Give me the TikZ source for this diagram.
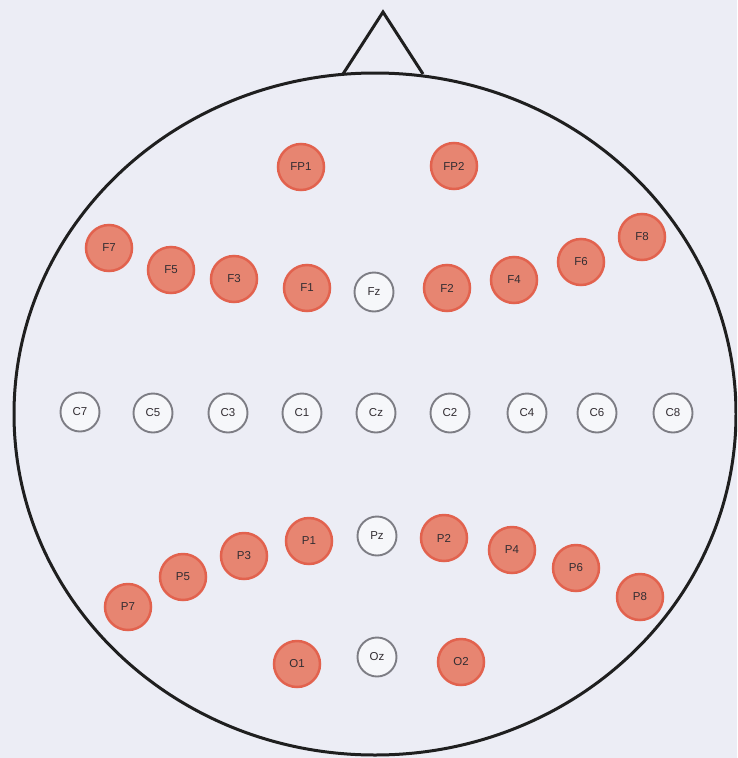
\documentclass[tikz,border=0pt]{standalone}
\usepackage{fontspec}
\setmainfont{Liberation Sans}
\definecolor{bgc}{RGB}{236,237,245}
\definecolor{redfill}{RGB}{231,133,113}
\definecolor{redring}{RGB}{226,98,78}
\definecolor{greyring}{RGB}{125,125,132}
\definecolor{txt}{RGB}{50,45,50}
\tikzset{
  elec/.style={circle, minimum size=46pt, inner sep=0pt, fill=redfill, draw=redring, line width=2.5pt,
    font=\fontsize{11.5}{13}\selectfont, text=txt},
  idle/.style={circle, minimum size=39pt, inner sep=0pt, fill=white!55!bgc, draw=greyring, line width=1.9pt,
    font=\fontsize{11.5}{13}\selectfont, text=txt},
  headline/.style={line width=3pt, draw=black!88}
}
\begin{document}
\begin{tikzpicture}[x=1pt,y=-1pt]
\fill[bgc] (0,0) rectangle (737,758);
\useasboundingbox (0,0) rectangle (737,758);
\clip (0,0) rectangle (737,758);
% head
\draw[headline] (375,414) ellipse [x radius=361, y radius=341];
\coordinate (nl) at (343,74);
\coordinate (nt) at (383,12);
\coordinate (nr) at (423,74);
\draw[headline, line join=miter] (nl) -- (nt) -- (nr);
% frontal pole
\node[elec] (FP1) at (301,167) {FP1};
\node[elec] (FP2) at (454,166) {FP2};
% frontal
\node[elec] (F7) at (109,248) {F7};
\node[elec] (F5) at (171,270) {F5};
\node[elec] (F3) at (234,279) {F3};
\node[elec] (F1) at (307,288) {F1};
\node[idle] (Fz) at (374,292) {Fz};
\node[elec] (F2) at (447,288) {F2};
\node[elec] (F4) at (514,280) {F4};
\node[elec] (F6) at (581,262) {F6};
\node[elec] (F8) at (642,237) {F8};
% central
\node[idle] (C7) at (80,412) {C7};
\node[idle] (C5) at (153,413) {C5};
\node[idle] (C3) at (228,413) {C3};
\node[idle] (C1) at (302,413) {C1};
\node[idle] (Cz) at (376,413) {Cz};
\node[idle] (C2) at (450,413) {C2};
\node[idle] (C4) at (527,413) {C4};
\node[idle] (C6) at (597,413) {C6};
\node[idle] (C8) at (673,413) {C8};
% parietal
\node[elec] (P7) at (128,607) {P7};
\node[elec] (P5) at (183,577) {P5};
\node[elec] (P3) at (244,556) {P3};
\node[elec] (P1) at (309,541) {P1};
\node[idle] (Pz) at (377,536) {Pz};
\node[elec] (P2) at (444,538) {P2};
\node[elec] (P4) at (512,550) {P4};
\node[elec] (P6) at (576,568) {P6};
\node[elec] (P8) at (640,597) {P8};
% occipital
\node[elec] (O1) at (297,664) {O1};
\node[idle] (Oz) at (377,657) {Oz};
\node[elec] (O2) at (461,662) {O2};
\end{tikzpicture}
\end{document}
